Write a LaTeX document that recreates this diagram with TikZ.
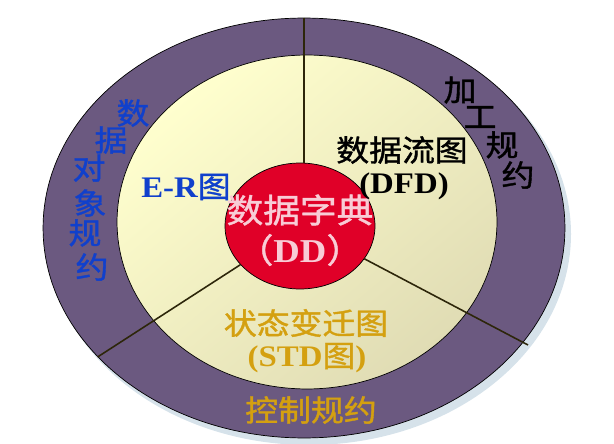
\documentclass[tikz,border=0pt]{standalone}
\usepackage{fontspec}
\setmainfont{Liberation Serif}
\newfontfamily\zhfont[FakeBold=1.2]{Noto Sans CJK SC}
\usepackage{tikz}
\usetikzlibrary{shapes.geometric,calc}

\definecolor{ringpurple}{RGB}{107,89,128}
\definecolor{paleyellow}{RGB}{255,255,206}
\definecolor{duskyellow}{RGB}{224,220,180}
\definecolor{ddred}{RGB}{224,0,40}
\definecolor{ddpink}{RGB}{248,204,214}
\definecolor{erblue}{RGB}{16,64,204}
\definecolor{stdgold}{RGB}{212,160,16}
\definecolor{shadowblue}{RGB}{214,226,234}
\definecolor{spokeline}{RGB}{45,38,10}

\tikzset{
	lbl/.style={inner sep=0pt, xscale=1.1, font=\zhfont\fontsize{17}{20}\selectfont},
	ddlbl/.style={lbl, font=\zhfont\fontsize{19}{22}\selectfont, text=ddpink},
	spoke/.style={draw=spokeline, line width=0.9pt},
}

\begin{document}
\begin{tikzpicture}[x=0.02cm,y=0.02cm]
		\useasboundingbox (0,0) rectangle (614,443);
		\fill [shadowblue] (309,209) ellipse [x radius=262, y radius=211];
		\node [ellipse, draw, fill=ringpurple, minimum width=10.44cm, minimum height=8.4cm, inner sep=0pt] (outer) at (304,215) {};
		\node [ellipse, draw, top color=paleyellow, bottom color=duskyellow, shading angle=40, minimum width=7.6cm, minimum height=6.68cm, inner sep=0pt] (inner) at (307,221) {};
		\node [ellipse, draw, fill=ddred, minimum width=3.0cm, minimum height=2.52cm, inner sep=0pt] (dd) at (300,217) {};
		\coordinate (dfdend) at (528,98);
		\draw [spoke] (outer.north) -- (dd.north -| outer.north);
		\draw [spoke] (dd.-27) -- (dfdend);
		\draw [spoke] (dd.213) -- (outer.212);
		\node [ddlbl] (ddname) at (300,233) {数据字典};
		\node [ddlbl] (ddabbr) at (300,193) {（{\rmfamily\bfseries DD}）};
		\node [lbl, text=erblue] (er) at (186,256) {{\rmfamily\bfseries E-R}图};
		\node [lbl] (dfdname) at (402,293) {数据流图};
		\node [lbl] (dfdabbr) at (404,257) {\rmfamily\bfseries (DFD)};
		\node [lbl, text=stdgold] (stdname) at (306,120) {状态变迁图};
		\node [lbl, text=stdgold] (stdabbr) at (307,85) {{\rmfamily\bfseries (STD}图{\rmfamily\bfseries )}};
		\node [lbl, text=stdgold] (ctrl) at (311,33) {控制规约};
		\node [lbl, text=erblue] (obj1) at (133,330) {数};
		\node [lbl, text=erblue] (obj2) at (111,303) {据};
		\node [lbl, text=erblue] (obj3) at (89,275) {对};
		\node [lbl, text=erblue] (obj4) at (90,240) {象};
		\node [lbl, text=erblue] (obj5) at (85,210) {规};
		\node [lbl, text=erblue] (obj6) at (92,176) {约};
		\node [lbl] (proc1) at (460,353) {加};
		\node [lbl] (proc2) at (480,326) {工};
		\node [lbl] (proc3) at (502,298) {规};
		\node [lbl] (proc4) at (518,268) {约};
\end{tikzpicture}
\end{document}
